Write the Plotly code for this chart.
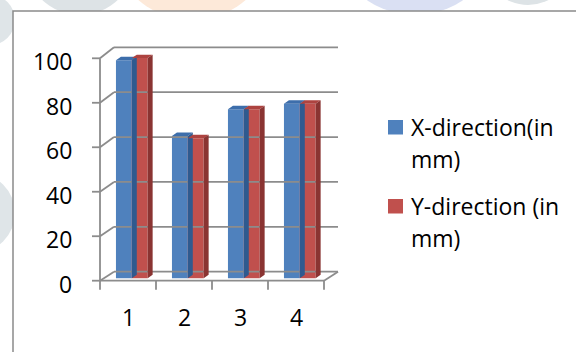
import plotly.graph_objects as go

# ---- data -------------------------------------------------------------
categories = [1, 2, 3, 4]
x_direction = [98, 64, 76, 78.5]
y_direction = [99, 63, 76, 78.5]
series_names = ["X-direction(in mm)", "Y-direction (in mm)"]
legend_lines = [["X-direction(in", "mm)"], ["Y-direction (in", "mm)"]]
y_ticks = [0, 20, 40, 60, 80, 100]

# ---- page geometry (pixels) -------------------------------------------
W, H = 576, 352
AX_LEFT = 100.0     # pixel x of the left edge of category 1
CAT_PX = 56.0       # pixels per category
Y0_PX = 280.7       # pixel y of value 0 on the front plane
VAL_PX = 2.224      # pixels per value unit


def xd(px):
    return 0.5 + (px - AX_LEFT) / CAT_PX


def yd(py):
    return (Y0_PX - py) / VAL_PX


def px_(p):
    return p / W


def py_(p):
    return 1 - p / H


# pseudo-3D depth offsets, in axis units
WALL_DX = 0.25
BACK_Y0, BACK_SCALE = 4.05, 1.009       # back wall value mapping
BAR_FX, BAR_FY = 0.068, 1.08            # front face of the bars
BAR_DX, BAR_DY = 0.089, 1.57            # bar thickness
BAR_W = 0.283

GRID = "#8c8c8c"
FONT = "Open Sans"
BLUE = dict(front="#4f81bd", top="#3d6eab", side="#2f5a8f")
RED = dict(front="#c0504d", top="#ad4340", side="#8a3432")


def back_y(v):
    return BACK_Y0 + BACK_SCALE * v


fig = go.Figure()


def add_lines(segs, color=GRID, width=1.8):
    xs, ys = [], []
    for (x0, y0), (x1, y1) in segs:
        xs += [x0, x1, None]
        ys += [y0, y1, None]
    fig.add_trace(go.Scatter(x=xs, y=ys, mode="lines",
                             line=dict(color=color, width=width),
                             hoverinfo="skip", showlegend=False))


def add_polys(polys, color):
    xs, ys = [], []
    for poly in polys:
        for x, y in poly:
            xs.append(x)
            ys.append(y)
        xs.append(poly[0][0])
        ys.append(poly[0][1])
        xs.append(None)
        ys.append(None)
    fig.add_trace(go.Scatter(x=xs, y=ys, mode="lines", fill="toself",
                             fillcolor=color, line=dict(width=0, color=color),
                             hoverinfo="skip", showlegend=False))


# ---- walls, floor and axes ---------------------------------------------
x_lo, x_hi = 0.5, len(categories) + 0.5
segs = []
for v in y_ticks:
    segs.append(((x_lo + WALL_DX, back_y(v)), (x_hi + WALL_DX, back_y(v))))   # back wall
    segs.append(((x_lo, v), (x_lo + WALL_DX, back_y(v))))                    # side wall
    segs.append(((x_lo - 8 / CAT_PX, v), (x_lo, v)))                         # y ticks
segs.append(((x_lo, 0), (x_lo, y_ticks[-1])))                                # y axis
segs.append(((x_lo, 0), (x_hi, 0)))                                          # floor front
segs.append(((x_hi, 0), (x_hi + WALL_DX, back_y(0))))                        # floor right
for i in range(len(categories) + 1):
    xe = x_lo + i
    segs.append(((xe, 0), (xe, -9 / VAL_PX)))                                # x ticks
add_lines(segs)

# ---- bars ----------------------------------------------------------------
for name, vals, col, off in [(series_names[0], x_direction, BLUE, -BAR_W),
                             (series_names[1], y_direction, RED, 0.0)]:
    fig.add_trace(go.Bar(x=categories, y=vals, base=BAR_FY,
                         offset=BAR_FX + off, width=BAR_W, name=name,
                         marker=dict(color=col["front"], line=dict(width=0)),
                         showlegend=False))
    tops, sides = [], []
    for c, v in zip(categories, vals):
        xl = c + BAR_FX + off
        xr = xl + BAR_W
        yt = BAR_FY + v
        yb = BAR_FY
        tops.append([(xl, yt), (xr, yt), (xr + BAR_DX, yt + BAR_DY), (xl + BAR_DX, yt + BAR_DY)])
        sides.append([(xr, yb), (xr, yt), (xr + BAR_DX, yt + BAR_DY), (xr + BAR_DX, yb + BAR_DY)])
    add_polys(tops, col["top"])
    add_polys(sides, col["side"])

# ---- text ----------------------------------------------------------------
ann = []
for v in y_ticks:
    ann.append(dict(x=xd(74), y=v, xref="x", yref="y", text=str(v),
                    xanchor="right", yanchor="middle", yshift=-3, showarrow=False,
                    font=dict(family=FONT, size=23, color="#000")))
for c in categories:
    ann.append(dict(x=c, y=yd(316.7), xref="x", yref="y", text=str(c),
                    xanchor="center", yanchor="middle", showarrow=False,
                    font=dict(family=FONT, size=23, color="#000")))

shapes = []
# faint background artwork around the chart frame
for cx, cy, r, col in [(80, -40, 55, "#dde3e6"), (192, -62, 82, "#fde9d9"),
                       (272, -50, 45, "#fddde0"), (333, -40, 35, "#d4f6fa"),
                       (415, -70, 85, "#dae0f3"), (528, -40, 45, "#dde3e6"),
                       (-10, 20, 25, "#dfe5e8"), (-25, 213, 40, "#dfe5e8")]:
    shapes.append(dict(type="circle", xref="paper", yref="paper",
                       x0=px_(cx - r), x1=px_(cx + r), y0=py_(cy + r), y1=py_(cy - r),
                       fillcolor=col, line=dict(width=0), layer="below"))
shapes.append(dict(type="rect", xref="paper", yref="paper",
                   x0=px_(13), x1=1.05, y0=-0.05, y1=py_(11),
                   fillcolor="white", line=dict(color="#8a8a8a", width=1.5), layer="below"))

# legend
for i, (col, lines) in enumerate([(BLUE, legend_lines[0]), (RED, legend_lines[1])]):
    top = 120 + i * 79
    shapes.append(dict(type="rect", xref="paper", yref="paper",
                       x0=px_(388), x1=px_(403), y0=py_(top + 14.5), y1=py_(top),
                       fillcolor=col["front"], line=dict(width=0)))
    for j, t in enumerate(lines):
        ann.append(dict(x=px_(409), y=py_(top + 7 + 32 * j), xref="paper", yref="paper",
                        text=t, xanchor="left", yanchor="middle", showarrow=False,
                        font=dict(family=FONT, size=23, color="#000")))

fig.update_layout(
    width=W, height=H, autosize=False,
    margin=dict(l=0, r=0, t=0, b=0),
    paper_bgcolor="white", plot_bgcolor="rgba(0,0,0,0)",
    barmode="overlay", showlegend=False,
    xaxis=dict(range=[xd(0), xd(W)], visible=False, fixedrange=True),
    yaxis=dict(range=[yd(H), yd(0)], visible=False, fixedrange=True),
    annotations=ann, shapes=shapes,
)

fig.write_html("out.html")
